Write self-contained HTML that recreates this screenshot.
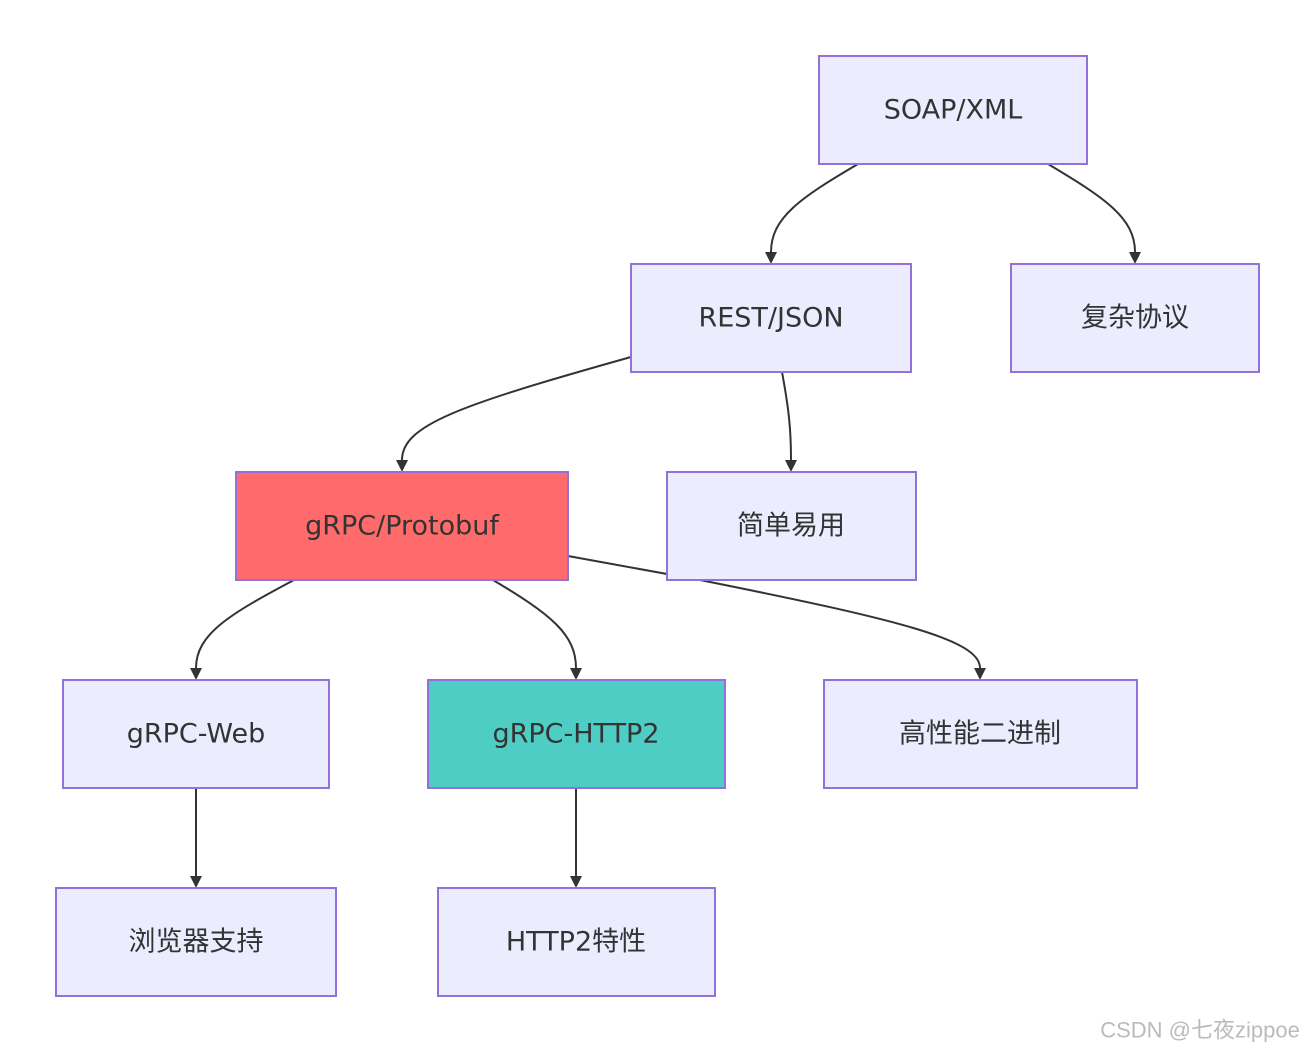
<!DOCTYPE html>
<html><head><meta charset="utf-8"><style>
html,body{margin:0;padding:0;background:#fff;}
svg text{font-family:"DejaVu Sans","Noto Sans CJK SC",sans-serif;font-size:27px;fill:#333;text-anchor:middle;dominant-baseline:central;}
</style></head><body>
<svg width="1314" height="1051" viewBox="0 0 1314 1051" xmlns="http://www.w3.org/2000/svg">
<defs><marker id="a" markerWidth="12" markerHeight="12" refX="6" refY="10" orient="auto-start-reverse" markerUnits="userSpaceOnUse" viewBox="0 0 12 12">
<path d="M0,0 L12,0 L6,12 z" fill="#333" transform="rotate(0)"/></marker></defs>
<g fill="none" stroke="#333" stroke-width="2">
<path d="M858,164 C800,198 771,218 771,252"/>
<path d="M1048,164 C1105,198 1135,218 1135,252"/>
<path d="M631,357 C460,405 402,425 402,460"/>
<path d="M782,372 C789,410 791,430 791,460"/>
<path d="M294,580 C230,614 196,634 196,668"/>
<path d="M493,580 C550,614 576,634 576,668"/>
<path d="M568,556 L700,580 C900,620 980,640 980,668"/>
<path d="M196,788 L196,876"/>
<path d="M576,788 L576,876"/>
</g>
<g fill="#333">
<path d="M765,252 L777,252 L771,264 z"/>
<path d="M1129,252 L1141,252 L1135,264 z"/>
<path d="M396,460 L408,460 L402,472 z"/>
<path d="M785,460 L797,460 L791,472 z"/>
<path d="M190,668 L202,668 L196,680 z"/>
<path d="M570,668 L582,668 L576,680 z"/>
<path d="M974,668 L986,668 L980,680 z"/>
<path d="M190,876 L202,876 L196,888 z"/>
<path d="M570,876 L582,876 L576,888 z"/>
</g>
<g stroke="#9370db" stroke-width="2" fill="#ececff">
<rect x="819" y="56" width="268" height="108"/>
<rect x="631" y="264" width="280" height="108"/>
<rect x="1011" y="264" width="248" height="108"/>
<rect x="236" y="472" width="332" height="108" fill="#ff6b6b"/>
<rect x="667" y="472" width="249" height="108"/>
<rect x="63" y="680" width="266" height="108"/>
<rect x="428" y="680" width="297" height="108" fill="#4ecdc4"/>
<rect x="824" y="680" width="313" height="108"/>
<rect x="56" y="888" width="280" height="108"/>
<rect x="438" y="888" width="277" height="108"/>
</g>
<text x="953" y="110">SOAP/XML</text>
<text x="771" y="318">REST/JSON</text>
<text x="1135" y="318">复杂协议</text>
<text x="402" y="526">gRPC/Protobuf</text>
<text x="791" y="526">简单易用</text>
<text x="196" y="734">gRPC-Web</text>
<text x="576" y="734">gRPC-HTTP2</text>
<text x="980" y="734">高性能二进制</text>
<text x="196" y="942">浏览器支持</text>
<text x="576" y="942">HTTP2特性</text>
<text x="1200" y="1030" style="font-size:22px;fill:#bbb;font-family:'Liberation Sans','Noto Sans CJK SC',sans-serif">CSDN @七夜zippoe</text>
</svg>
</body></html>
